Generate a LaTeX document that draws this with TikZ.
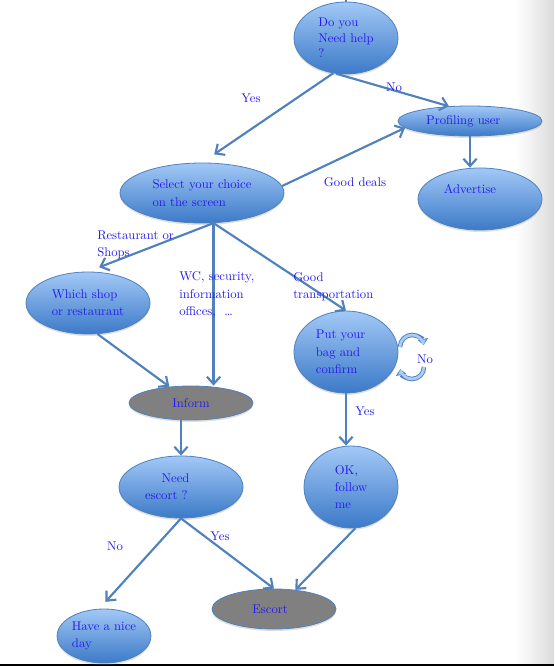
\documentclass[tikz,border=0pt]{standalone}
\usepackage{fontspec}
\usepackage{tikz}
\usetikzlibrary{arrows.meta}
\usetikzlibrary{shapes.geometric}
\usetikzlibrary{shadows}

\definecolor{edgeblue}{RGB}{79,129,189}
\definecolor{lightblue}{RGB}{162,200,246}
\definecolor{darkblue}{RGB}{60,122,200}
\definecolor{loopblue}{RGB}{170,205,245}
\definecolor{txtblue}{RGB}{38,28,235}
\definecolor{boxgray}{RGB}{128,128,128}

\tikzset{
  txt/.style={text=txtblue, font=\fontsize{9.5}{13}\selectfont},
  bubble/.style={txt, ellipse, draw=edgeblue, line width=0.6pt, inner sep=0pt, align=left,
    drop shadow={opacity=0.25, shadow xshift=0pt, shadow yshift=-1.5pt}},
  bluebubble/.style={bubble, top color=lightblue, bottom color=darkblue},
  graybubble/.style={bubble, fill=boxgray},
  link/.style={draw=edgeblue, line width=1.6pt, -{Straight Barb[length=5.5pt,width=10pt]}},
  looparc/.style={draw=edgeblue, line width=3.4pt,
    -{Triangle[length=4.5pt,width=8pt,line width=0.6pt,fill=loopblue]}},
  lbl/.style={txt, inner sep=0pt, align=left},
}

\begin{document}
\begin{tikzpicture}[x=0.75pt,y=-0.75pt]
\useasboundingbox (0,0) rectangle (554,666);
\shade[left color=white, right color=gray!28] (516,0) rectangle (554,664);
\draw[line width=1.1pt] (0,665) -- (554,665);

% nodes
\node[bluebubble, minimum width=78pt, minimum height=54pt, font=\fontsize{9.5}{11.6}\selectfont] (help) at (346,38) {Do you\\Need help\\?};
\node[bluebubble, minimum width=108pt, minimum height=22.5pt] (prof) at (470,121) {Profiling user\hspace*{10pt}};
\node[bluebubble, minimum width=93pt, minimum height=46.5pt, text depth=15pt] (advert) at (480,199) {Advertise\hspace*{15pt}};
\node[bluebubble, minimum width=123pt, minimum height=45pt] (select) at (202,193) {Select your choice\\on the screen};
\node[bluebubble, minimum width=93pt, minimum height=46.5pt] (which) at (88,303) {Which shop\\or restaurant};
\node[graybubble, minimum width=93pt, minimum height=25.5pt] (inform) at (191,403) {Inform};
\node[bluebubble, minimum width=78pt, minimum height=61.5pt] (bag) at (346,352) {Put your\hspace*{8pt}\\bag and\\confirm};
\node[bluebubble, minimum width=70.5pt, minimum height=61.5pt] (ok) at (351,487) {OK,\\follow\hspace*{12pt}\\me};
\node[bluebubble, minimum width=93pt, minimum height=46.5pt] (need) at (181,487) {\hspace*{12.5pt}Need\\escort ?\hspace*{22pt}};
\node[graybubble, minimum width=93pt, minimum height=30pt] (escort) at (274,609) {Escort\hspace*{6pt}};
\node[bluebubble, minimum width=70.5pt, minimum height=40.5pt] (have) at (104,636) {Have a nice\\day};
\coordinate (top) at (346,0);

% connectors
\draw[link,-] (help.north) -- (top);
\draw[link, shorten >=11pt] (help.250) -- (select.north);
\draw[link] (help.255) -- (prof.145);
\draw[link] (select.5) -- (prof.186);
\draw[link] (prof.south) -- (prof.south |- advert.north);
\draw[link, shorten >=9pt] (select.291) -- (which.north);
\draw[link] (select.291) -- (select.291 |- inform.north);
\draw[link] (select.291) -- (bag.north);
\draw[link] (which.287) -- (inform.143);
\draw[link] (need.north |- inform.south) -- (need.north);
\draw[link] (bag.south) -- (bag.south |- ok.north);
\draw[link, shorten >=7pt] (need.south) -- (have.100);
\draw[link] (need.south) -- (escort.north);
\draw[link] (ok.276) -- (escort.42);

% loop on bag
\coordinate (loopa) at (400,347);
\coordinate (loopb) at (424,367);
\draw[looparc] (loopa) arc[start angle=180, end angle=10, radius=9pt];
\draw[draw=loopblue, line width=2pt] (loopa) arc[start angle=180, end angle=15, radius=9pt];
\draw[looparc] (loopb) arc[start angle=0, end angle=-170, radius=9pt];
\draw[draw=loopblue, line width=2pt] (loopb) arc[start angle=0, end angle=-165, radius=9pt];

% labels
\node[lbl] (lyes1) at (251,98) {Yes};
\node[lbl] (lno1) at (394,87) {No};
\node[lbl] (ldeals) at (355,182) {Good deals};
\node[lbl, anchor=west] (lrest) at (97,245) {Restaurant or\\Shops};
\node[lbl, anchor=west] (lwc) at (179,295) {WC, security,\\information\\offices,\ \ …};
\node[lbl, anchor=west] (ltrans) at (293,287) {Good\\transportation};
\node[lbl] (lno2) at (425,359) {No};
\node[lbl] (lyes2) at (365,411) {Yes};
\node[lbl] (lno3) at (115,546) {No};
\node[lbl] (lyes3) at (220,536) {Yes};
\end{tikzpicture}
\end{document}
